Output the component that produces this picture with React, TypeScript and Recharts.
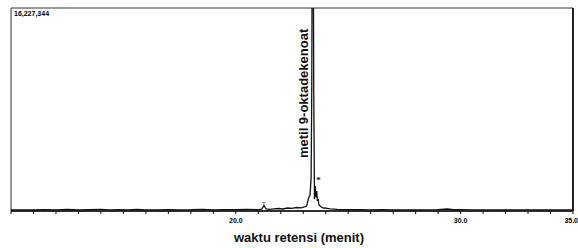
import React from "react";
import { LineChart, Line, XAxis, YAxis, ReferenceArea, ReferenceLine, ReferenceDot } from "recharts";

// retention time (min) and detector response (counts)
const retentionTimes = [
  10.0, 10.5, 11.0, 11.5, 12.0, 12.5, 13.0, 13.5, 14.0, 14.4, 14.8, 15.2, 15.6, 16.0, 16.5, 17.0, 17.5,
  18.0, 18.5, 19.0, 19.5, 20.0, 20.5, 21.0, 21.15, 21.25, 21.35, 21.5, 21.7, 21.9, 22.1, 22.3, 22.5,
  22.7, 22.9, 23.05, 23.15, 23.25, 23.3, 23.35, 23.38, 23.4, 23.44, 23.47, 23.5, 23.53, 23.56, 23.6,
  23.63, 23.66, 23.7, 23.75, 23.8, 23.9, 24.0, 24.2, 24.5, 25.0, 25.5, 26.0, 26.5, 27.0, 27.5, 28.0,
  28.5, 29.0, 29.4, 29.7, 30.0, 30.5, 31.0, 31.5, 32.0, 32.5, 33.0, 33.5, 34.0, 34.5, 35.0,
];
const intensities = [
  80000, 95000, 80000, 110000, 90000, 120000, 85000, 100000, 130000, 90000, 110000, 85000, 120000, 95000,
  80000, 110000, 90000, 100000, 130000, 90000, 110000, 100000, 120000, 110000, 150000, 420000, 160000,
  130000, 170000, 200000, 160000, 240000, 210000, 280000, 250000, 320000, 400000, 1100000, 1250000,
  2600000, 10000000, 22000000, 24000000, 9000000, 950000, 2000000, 1100000, 1600000, 800000, 950000,
  480000, 400000, 320000, 240000, 230000, 170000, 130000, 100000, 110000, 90000, 100000, 85000, 95000,
  80000, 90000, 100000, 160000, 100000, 110000, 90000, 85000, 95000, 80000, 90000, 85000, 80000, 90000,
  85000, 80000,
];

const axisMax = 16227344;
const minuteTicks = [
  10, 11, 12, 13, 14, 15, 16, 17, 18, 19, 20, 21, 22, 23, 24, 25, 26, 27, 28, 29, 30, 31, 32, 33, 34, 35,
];
const labeledTicks = [20, 30, 35];
const peakName = "metil 9-oktadekenoat";
const xTitle = "waktu retensi (menit)";

const data = retentionTimes.map((t, i) => ({ t, v: intensities[i] }));

const font = "'Liberation Sans', Arial, sans-serif";

const TimeTick = (props: any) => {
  const { x, y, payload } = props;
  const v = payload.value as number;
  if (!labeledTicks.includes(v)) return null;
  const last = v === labeledTicks[labeledTicks.length - 1];
  return (
    <text
      x={last ? x + 5 : x}
      y={y + 7}
      textAnchor={last ? "end" : "middle"}
      fontSize={7}
      fontWeight="bold"
      fill="#000"
      fontFamily={font}
    >
      {v.toFixed(1)}
    </text>
  );
};

export default function App() {
  return (
    <div style={{ position: "absolute", left: 0, top: 0, background: "#fff" }}>
      <LineChart width={578} height={248} data={data} margin={{ top: 8, right: 5, left: 11, bottom: 0 }}>
        <XAxis
          type="number"
          dataKey="t"
          domain={[10, 35]}
          ticks={minuteTicks}
          interval={0}
          tickSize={3}
          height={37}
          tick={<TimeTick />}
          stroke="#111"
          axisLine={{ stroke: "#111", strokeWidth: 1.5 }}
          label={{
            value: xTitle,
            position: "insideBottom",
            offset: 6,
            dx: 7,
            style: { fontSize: 13, fontWeight: "bold", fill: "#111", fontFamily: font },
          }}
        />
        <YAxis hide domain={[0, axisMax]} allowDataOverflow />
        <ReferenceArea
          x1={10}
          x2={35}
          y1={0}
          y2={axisMax}
          fill="none"
          stroke="#333"
          strokeWidth={1}
          label={{
            value: "16,227,344",
            position: "insideTopLeft",
            offset: 3,
            style: { fontSize: 7, fontWeight: "bold", fill: "#000", fontFamily: font },
          }}
        />
        <ReferenceLine x={35} stroke="#222" strokeWidth={2} />
        <Line type="linear" dataKey="v" stroke="#111" strokeWidth={1.3} dot={false} isAnimationActive={false} />
        <ReferenceDot
          x={23.02}
          y={9400000}
          r={0}
          fill="none"
          stroke="none"
          label={{
            value: peakName,
            position: "center",
            angle: -90,
            style: { fontSize: 13, fontWeight: "bold", fill: "#111", fontFamily: font },
          }}
        />
        <ReferenceDot
          x={23.68}
          y={2500000}
          r={0}
          fill="none"
          stroke="none"
          label={{ value: "*", position: "center", style: { fontSize: 9, fontWeight: "bold", fill: "#111" } }}
        />
        <ReferenceDot
          x={21.25}
          y={600000}
          r={0}
          fill="none"
          stroke="none"
          label={{ value: "T", position: "center", style: { fontSize: 6, fill: "#333", fontFamily: font } }}
        />
      </LineChart>
    </div>
  );
}
